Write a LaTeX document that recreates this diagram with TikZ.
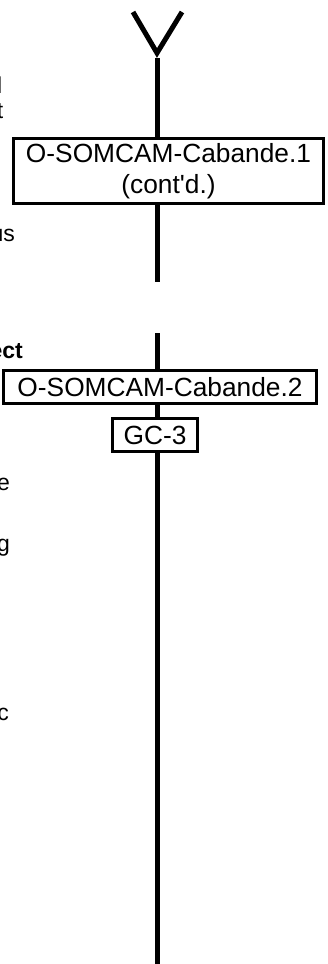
\documentclass[tikz,border=0pt]{standalone}
\usepackage{fontspec}
\setmainfont{Liberation Sans}
\usetikzlibrary{positioning, calc}
\tikzset{
    tagbox/.style={rectangle, draw=black, line width=2.6pt, fill=white, inner sep=0pt, align=center, font=\fontsize{26.3}{31}\selectfont},
    spine/.style={line width=5pt, color=black},
    sidetext/.style={anchor=base east, inner sep=0pt, font=\fontsize{23}{27}\selectfont},
}

\begin{document}
\begin{tikzpicture}[x=1pt, y=-1pt]
        \useasboundingbox (0,0) rectangle (328,964);

        % --- Boxes on the spine ---
        \node[tagbox, minimum width=310pt, minimum height=65pt] (cab1) at (168.5,171) {O-SOMCAM-Cabande.1\\(cont\textquotesingle d.)};
        \node[tagbox, minimum width=313pt, minimum height=33pt] (cab2) at (160,387) {O-SOMCAM-Cabande.2};
        \node[tagbox, minimum width=85pt, minimum height=33pt] (gc) at (155,435) {GC-3};

        % --- Fork at the top ---
        \coordinate (ytip)   at (157,53);
        \coordinate (yleft)  at (133,12);
        \coordinate (yright) at (182,12);
        \coordinate (ystem)  at (157,58);
        \draw[spine, line join=miter] (yleft) -- (ytip) -- (yright);

        % Spine pieces
        \coordinate (cut1) at (157,282);
        \coordinate (cut2) at (157,333);
        \coordinate (bottom) at (157,964);
        \draw[spine] (ystem) -- (cab1.north -| ystem);
        \draw[spine] (cab1.south -| ystem) -- (cut1);
        \draw[spine] (cut2) -- (cab2.north -| cut2);
        \draw[spine] (cab2.south -| cut2) -- (gc.north -| cut2);
        \draw[spine] (gc.south -| cut2) -- (bottom);

        % Cut-off text at the left edge
        \node[sidetext] (ta) at (2.5,93) {l};
        \node[sidetext] (tb) at (3.5,118) {t};
        \node[sidetext] (tc) at (15,241) {us};
        \node[sidetext, font=\fontsize{23}{27}\selectfont\bfseries] (td) at (23,358) {ect};
        \node[sidetext] (te) at (10,490) {e};
        \node[sidetext] (tf) at (10,551) {g};
        \node[sidetext] (tg) at (9,720) {c};
    \end{tikzpicture}
\end{document}
